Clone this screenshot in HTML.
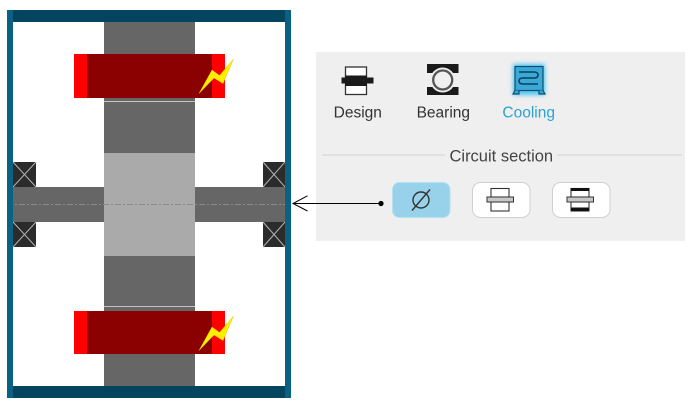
<!DOCTYPE html>
<html>
<head>
<meta charset="utf-8">
<style>
  html,body{margin:0;padding:0;background:#fff;}
  body{width:695px;height:408px;overflow:hidden;}
  svg{display:block;}
  text{font-family:"Liberation Sans", Arial, sans-serif;}
</style>
</head>
<body>
<svg width="695" height="408" viewBox="0 0 695 408" xmlns="http://www.w3.org/2000/svg">
  <defs>
    <filter id="glow" x="-50%" y="-50%" width="200%" height="200%">
      <feGaussianBlur stdDeviation="2"/>
    </filter>
  </defs>
  <rect x="0" y="0" width="695" height="408" fill="#ffffff"/>

  <!-- Frame bands -->
  <rect x="7" y="10" width="284" height="12" fill="#034560"/>
  <rect x="7" y="386" width="284" height="12" fill="#034560"/>

  <!-- Vertical column -->
  <rect x="104" y="22" width="91" height="364" fill="#666666"/>
  <rect x="104" y="153" width="91" height="103" fill="#aaaaaa"/>
  <line x1="104" y1="101.5" x2="195" y2="101.5" stroke="#c4c4c4" stroke-width="1"/>
  <line x1="104" y1="306.5" x2="195" y2="306.5" stroke="#c4c4c4" stroke-width="1"/>

  <!-- Horizontal shaft -->
  <rect x="13" y="187" width="91" height="35" fill="#666666"/>
  <rect x="195" y="187" width="90" height="35" fill="#666666"/>

  <!-- Bearings -->
  <g stroke="#b0b0b0" stroke-width="1">
    <rect x="13" y="162" width="23" height="25" fill="#2b2b2b" stroke="none"/>
    <line x1="13" y1="162" x2="36" y2="187"/><line x1="36" y1="162" x2="13" y2="187"/>
    <rect x="13" y="222" width="23" height="25" fill="#2b2b2b" stroke="none"/>
    <line x1="13" y1="222" x2="36" y2="247"/><line x1="36" y1="222" x2="13" y2="247"/>
    <rect x="263" y="162" width="22" height="25" fill="#2b2b2b" stroke="none"/>
    <line x1="263" y1="162" x2="285" y2="187"/><line x1="285" y1="162" x2="263" y2="187"/>
    <rect x="263" y="222" width="22" height="25" fill="#2b2b2b" stroke="none"/>
    <line x1="263" y1="222" x2="285" y2="247"/><line x1="285" y1="222" x2="263" y2="247"/>
  </g>

  <!-- Centerline -->
  <line x1="7" y1="204.5" x2="291" y2="204.5" stroke="#8a8a8a" stroke-width="1" stroke-dasharray="6 2 2 2"/>

  <!-- Coils -->
  <rect x="74" y="54" width="151" height="44" fill="#8b0000"/>
  <rect x="74" y="54" width="13" height="44" fill="#ff0000"/>
  <rect x="212" y="54" width="13" height="44" fill="#ff0000"/>
  <polygon points="233.5,59 223,83.5 214,78 199,93.5 212,70 219.5,75.5" fill="#ffee00" stroke="#e8c800" stroke-width="0.5"/>

  <rect x="74" y="311" width="151" height="43" fill="#8b0000"/>
  <rect x="74" y="311" width="13" height="43" fill="#ff0000"/>
  <rect x="212" y="311" width="13" height="43" fill="#ff0000"/>
  <polygon points="233.5,316 223,340.5 214,335 199,350.5 212,327 219.5,332.5" fill="#ffee00" stroke="#e8c800" stroke-width="0.5"/>

  <!-- Frame sides -->
  <rect x="7" y="10" width="6" height="388" fill="#0b6182"/>
  <rect x="285" y="10" width="6" height="388" fill="#0b6182"/>

  <!-- Panel -->
  <rect x="316" y="52" width="369" height="189" fill="#efefef"/>

  <!-- Design icon -->
  <rect x="345.5" y="67" width="21" height="10" fill="#ffffff" stroke="#333" stroke-width="1.3"/>
  <rect x="345.5" y="85" width="21" height="9.5" fill="#ffffff" stroke="#333" stroke-width="1.3"/>
  <rect x="345" y="75.5" width="22" height="10.5" fill="#1a1a1a"/>
  <rect x="341.5" y="77.5" width="32" height="6" fill="#1a1a1a"/>

  <!-- Bearing icon -->
  <rect x="427" y="64" width="31.5" height="9" fill="#1a1a1a"/>
  <rect x="427" y="87" width="31.5" height="8" fill="#1a1a1a"/>
  <circle cx="442.7" cy="80" r="12.5" fill="#efefef"/>
  <circle cx="442.7" cy="80" r="9.5" fill="#efefef" stroke="#555" stroke-width="2.3"/>

  <!-- Cooling icon -->
  <g filter="url(#glow)" opacity="0.9">
    <rect x="513" y="64" width="32" height="31" fill="#3fc0f0"/>
  </g>
  <rect x="515" y="66.5" width="28" height="24" fill="#3aa9d8" stroke="#0d4f70" stroke-width="1.2"/>
  <path d="M515 90.5 L513 94 L519 94 L519 90.5 M543 90.5 L545 94 L539 94 L539 90.5" fill="#3aa9d8" stroke="#0d4f70" stroke-width="1.2"/>
  <path d="M519 72 L534 72 Q538 72 538 75 Q538 78 534 78 L523 78 Q519 78 519 81 Q519 84 523 84 L538 84" fill="none" stroke="#0d3f5a" stroke-width="1.6"/>

  <!-- Labels -->
  <text x="357.8" y="117.5" font-size="15.5" fill="#333" text-anchor="middle">Design</text>
  <text x="443.3" y="117.5" font-size="15.5" fill="#333" text-anchor="middle">Bearing</text>
  <text x="528.7" y="117.5" font-size="15.5" fill="#2aa3d3" text-anchor="middle">Cooling</text>

  <!-- Circuit section -->
  <line x1="322" y1="155" x2="445" y2="155" stroke="#d2d2d2" stroke-width="1"/>
  <line x1="557" y1="155" x2="682" y2="155" stroke="#d2d2d2" stroke-width="1"/>
  <text x="501.3" y="161.5" font-size="16.5" fill="#444" text-anchor="middle">Circuit section</text>

  <!-- Buttons -->
  <rect x="392.5" y="182.5" width="57.5" height="35" rx="7" fill="#98d2ea" stroke="#b6dfef" stroke-width="1"/>
  <circle cx="421" cy="200" r="8" fill="none" stroke="#333" stroke-width="1.4"/>
  <line x1="412" y1="210.5" x2="430" y2="189.5" stroke="#333" stroke-width="1.4"/>

  <rect x="472.5" y="182.5" width="57.5" height="35" rx="8" fill="#ffffff" stroke="#cfcfcf" stroke-width="1"/>
  <rect x="491" y="188.5" width="18" height="8.5" fill="#fff" stroke="#333" stroke-width="1.1"/>
  <rect x="491" y="202" width="18" height="9" fill="#fff" stroke="#333" stroke-width="1.1"/>
  <rect x="487" y="197" width="26.5" height="5" fill="#c8c8c8" stroke="#333" stroke-width="1"/>

  <rect x="552.5" y="182.5" width="57.5" height="35" rx="8" fill="#ffffff" stroke="#cfcfcf" stroke-width="1"/>
  <rect x="571" y="188.5" width="18" height="8.5" fill="#fff" stroke="#333" stroke-width="1.1"/>
  <rect x="571" y="188" width="18" height="3" fill="#111"/>
  <rect x="571" y="202" width="18" height="9" fill="#fff" stroke="#333" stroke-width="1.1"/>
  <rect x="571" y="207.5" width="18" height="3.5" fill="#111"/>
  <rect x="567" y="197" width="26.5" height="5" fill="#c8c8c8" stroke="#333" stroke-width="1"/>

  <!-- Connector -->
  <line x1="293" y1="203.5" x2="381" y2="203.5" stroke="#000" stroke-width="1"/>
  <polyline points="307.5,195.8 293,203.5 307.5,211" fill="none" stroke="#000" stroke-width="1"/>
  <circle cx="381" cy="203.5" r="2.6" fill="#000"/>
</svg>
</body>
</html>
